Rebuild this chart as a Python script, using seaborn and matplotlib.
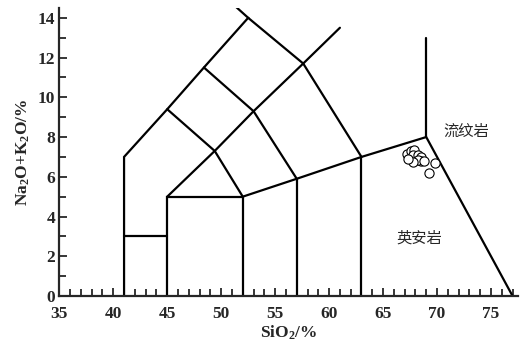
import matplotlib
matplotlib.use("Agg")
import matplotlib.pyplot as plt
import pandas as pd
import seaborn as sns
from matplotlib.ticker import MultipleLocator

# sample analyses (SiO2 wt%, Na2O+K2O wt%)
sio2 = [67.2, 67.6, 67.9, 67.8, 68.2, 68.5, 68.5, 68.2, 67.8, 67.3, 68.8, 69.8, 69.3]
alkali = [7.17, 7.3, 7.37, 7.09, 7.09, 7.0, 6.8, 6.83, 6.75, 6.92, 6.8, 6.67, 6.17]

# TAS field boundaries (Le Bas et al. 1986), as polylines
boundaries = [
    [(41, 0), (41, 7), (45, 9.4), (48.4, 11.5), (52.5, 14), (48.4, 16)],
    [(41, 3), (45, 3)],
    [(45, 0), (45, 5), (52, 5), (52, 0)],
    [(45, 5), (49.4, 7.3), (53, 9.3), (57.6, 11.7), (61, 13.5)],
    [(45, 9.4), (49.4, 7.3), (52, 5)],
    [(48.4, 11.5), (53, 9.3), (57, 5.9)],
    [(52.5, 14), (57.6, 11.7), (63, 7)],
    [(52, 5), (57, 5.9), (63, 7), (69, 8), (77, 0)],
    [(57, 0), (57, 5.9)],
    [(63, 0), (63, 7)],
    [(69, 8), (69, 13)],
]

field_names = ["流纹岩", "英安岩"]
field_x = [72.7, 68.4]
field_y = [8.3, 2.9]

sns.set_style("ticks")
plt.rcParams["font.family"] = ["Liberation Serif", "DejaVu Serif"]
plt.rcParams["mathtext.fontset"] = "custom"
plt.rcParams["mathtext.rm"] = "Liberation Serif:bold"
plt.rcParams["mathtext.default"] = "regular"

fig = plt.figure(figsize=(5.23, 3.43), dpi=100)
ax = fig.add_axes([0.1134, 0.137, 0.877, 0.84])

for seg in boundaries:
    xs, ys = zip(*seg)
    ax.plot(xs, ys, color="black", lw=1.6, solid_joinstyle="miter")

df = pd.DataFrame({"SiO2": sio2, "alk": alkali})
sns.scatterplot(data=df, x="SiO2", y="alk", ax=ax, marker="o", s=44,
                facecolor="white", edgecolor="black", linewidth=0.8, zorder=3)

for name, fx, fy in zip(field_names, field_x, field_y):
    ax.text(fx, fy, name, ha="center", va="center", fontsize=11,
            family=["Noto Sans CJK SC", "DejaVu Sans"])

ax.set_xlim(35, 77.5)
ax.set_ylim(0, 14.5)
ax.xaxis.set_major_locator(MultipleLocator(5))
ax.xaxis.set_minor_locator(MultipleLocator(1))
ax.yaxis.set_major_locator(MultipleLocator(2))
ax.yaxis.set_minor_locator(MultipleLocator(1))
ax.tick_params(which="both", direction="in", width=1.3, labelsize=12.5)
ax.tick_params(axis="x", pad=7)
ax.tick_params(axis="y", pad=3)
ax.tick_params(which="major", length=6)
ax.tick_params(which="minor", length=5)
for lab in ax.get_xticklabels() + ax.get_yticklabels():
    lab.set_fontweight("bold")

for side in ["top", "right"]:
    ax.spines[side].set_visible(False)
for side in ["left", "bottom"]:
    ax.spines[side].set_linewidth(1.6)

ax.set_xlabel("SiO$_2$/%", fontsize=12.5, fontweight="bold", labelpad=1)
ax.set_ylabel("Na$_2$O+K$_2$O/%", fontsize=12.5, fontweight="bold", labelpad=4)

fig.savefig("out.png", dpi=100)
